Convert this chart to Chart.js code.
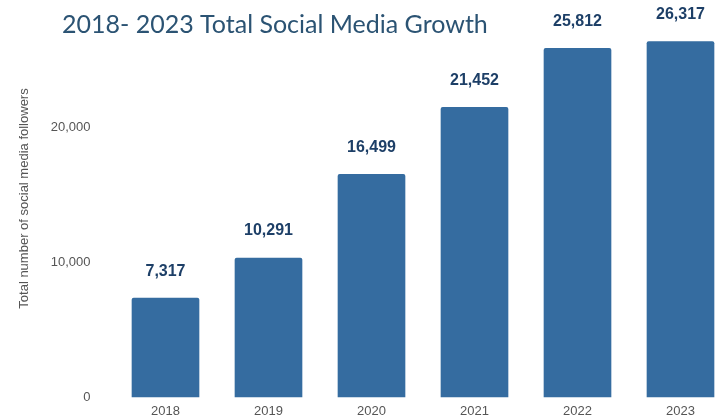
<!DOCTYPE html>
<html>
<head>
<meta charset="utf-8">
<script src="https://cdn.jsdelivr.net/npm/chart.js"></script>
<style>
  html, body { margin: 0; padding: 0; background: #ffffff; }
  #wrap { width: 722px; height: 420px; position: relative; }
</style>
</head>
<body>
<div id="wrap"><canvas id="growth_chart"></canvas></div>
<script>
// data
const years = ['2018', '2019', '2020', '2021', '2022', '2023'];
const followers = [7317, 10291, 16499, 21452, 25812, 26317];
const yTicks = [0, 10000, 20000];

const chartTitle = '2018- 2023 Total Social Media Growth';
const yTitle = 'Total number of social media followers';

const barColor = '#356ca0';
const labelColor = '#1d3f67';
const axisColor = '#555555';

// value labels above each bar + the big title at the top left
const labelsPlugin = {
    id: 'barLabels',
    afterDatasetsDraw(chart) {
        const ctx = chart.ctx;
        const meta = chart.getDatasetMeta(0);
        ctx.save();
        ctx.fillStyle = labelColor;
        ctx.font = 'bold 16px "Liberation Sans", Arial, sans-serif';
        ctx.textAlign = 'center';
        ctx.textBaseline = 'middle';
        meta.data.forEach((bar, i) => {
            ctx.fillText(followers[i].toLocaleString('en-US'), bar.x, bar.y - 27);
        });
        ctx.restore();
    },
    afterDraw(chart) {
        const ctx = chart.ctx;
        ctx.save();
        ctx.fillStyle = '#2b5373';
        ctx.font = '25px Lato, "Open Sans", sans-serif';
        ctx.textAlign = 'left';
        ctx.textBaseline = 'alphabetic';
        ctx.fillText(chartTitle, 62, 33);
        ctx.restore();
    }
};

let ctx = document.getElementById('growth_chart').getContext('2d');

let myChart = new Chart(ctx, {
    type: 'bar',
    data: {
        labels: years,
        datasets: [
            {
                label: 'Followers',
                data: followers,
                backgroundColor: barColor,
                borderRadius: 2,
                barThickness: 67,
                clip: false
            }
        ]
    },
    options: {
        responsive: true,
        maintainAspectRatio: false,
        animation: false,
        layout: {
            padding: { left: 0, right: 41.5, top: 0, bottom: 0 }
        },
        scales: {
            x: {
                offset: false,
                grid: { display: false, drawTicks: false },
                border: { display: false },
                afterFit: (scale) => {
                    scale.height = 23;
                },
                ticks: {
                    color: axisColor,
                    padding: 7,
                    font: { size: 13, family: '"Liberation Sans", Arial, sans-serif' }
                }
            },
            y: {
                min: 0,
                max: 29400,
                grid: { display: false, drawTicks: false },
                border: { display: false },
                afterBuildTicks: (scale) => {
                    scale.ticks = yTicks.map(v => ({ value: v }));
                },
                afterFit: (scale) => {
                    // wide axis box so the first bar sits where it does in the picture
                    scale.width = 165.5;
                    scale.paddingTop = 0;
                    scale.paddingBottom = 0;
                },
                ticks: {
                    color: axisColor,
                    padding: 75,
                    font: { size: 13, family: '"Liberation Sans", Arial, sans-serif' },
                    callback: (v) => Number(v).toLocaleString('en-US')
                },
                title: {
                    display: true,
                    text: yTitle,
                    color: axisColor,
                    padding: { top: 17, bottom: 0 },
                    font: { size: 13, family: '"Liberation Sans", Arial, sans-serif' }
                }
            }
        },
        plugins: {
            legend: { display: false },
            tooltip: { enabled: false }
        }
    },
    plugins: [labelsPlugin]
});
</script>
</body>
</html>
